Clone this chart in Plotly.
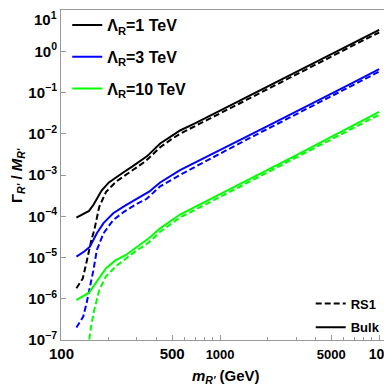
import plotly.graph_objects as go

# masses (GeV)
m_bulk_1 = [125, 140, 150, 160, 170, 180, 200, 225, 250, 280, 320, 345, 360, 380, 420, 500, 560, 700, 1000, 1500, 2000, 3000, 5000, 7000, 10000]
g_bulk_1 = [9.2e-5, 1.15e-4, 1.35e-4, 1.9e-4, 2.9e-4, 4.2e-4, 6.6e-4, 9.3e-4, 1.2e-3, 1.6e-3, 2.25e-3, 2.8e-3, 3.25e-3, 3.95e-3, 5.8e-3, 9.0e-3, 1.2e-2, 1.8e-2, 3.6e-2, 8.0e-2, 0.14, 0.31, 0.85, 1.65, 3.3]

m_rs_1 = [125, 137, 145, 150, 155, 162, 174, 192, 222, 250, 300, 334, 350, 370, 420, 500, 560, 700, 1000, 1500, 2000, 3000, 5000, 7000, 10000]
g_rs_1 = [1.8e-6, 3.1e-6, 8e-6, 1.5e-5, 2.6e-5, 4.7e-5, 1.7e-4, 3.9e-4, 6.9e-4, 9.5e-4, 1.5e-3, 2.05e-3, 2.4e-3, 2.95e-3, 4.7e-3, 7.6e-3, 1.0e-2, 1.55e-2, 3.1e-2, 7.0e-2, 0.122, 0.27, 0.74, 1.45, 2.85]

m_bulk_3 = [125, 140, 152, 160, 168, 185, 213, 250, 300, 346, 360, 380, 420, 560, 700, 1000, 1500, 2000, 3000, 5000, 7000, 10000]
g_bulk_3 = [1.05e-5, 1.4e-5, 1.83e-5, 2.6e-5, 3.86e-5, 6.8e-5, 1.18e-4, 1.75e-4, 2.6e-4, 3.5e-4, 4.0e-4, 4.8e-4, 6.6e-4, 1.32e-3, 2.05e-3, 4.0e-3, 8.9e-3, 1.55e-2, 3.4e-2, 9.3e-2, 0.18, 0.37]

m_rs_3 = [125, 138, 145, 150, 156, 160, 168, 185, 213, 250, 300, 346, 360, 380, 420, 560, 700, 1000, 1500, 2000, 3000, 5000, 7000, 10000]
g_rs_3 = [2.0e-7, 3.7e-7, 8e-7, 1.5e-6, 2.6e-6, 5e-6, 1.52e-5, 3.86e-5, 8.1e-5, 1.3e-4, 2.0e-4, 2.65e-4, 3.05e-4, 3.7e-4, 5.3e-4, 1.0e-3, 1.6e-3, 3.3e-3, 7.5e-3, 1.33e-2, 2.95e-2, 8.1e-2, 0.158, 0.32]

m_bulk_10 = [125, 140, 150, 160, 170, 192, 220, 256, 300, 342, 360, 380, 420, 560, 700, 1000, 1500, 2000, 3000, 5000, 7000, 10000]
g_bulk_10 = [9.3e-7, 1.2e-6, 1.4e-6, 2.0e-6, 2.85e-6, 5.5e-6, 8.5e-6, 1.15e-5, 1.8e-5, 2.55e-5, 3.0e-5, 3.6e-5, 5.1e-5, 1.1e-4, 1.7e-4, 3.4e-4, 7.6e-4, 1.35e-3, 3.0e-3, 8.4e-3, 1.65e-2, 0.034]

m_rs_10 = [125, 138, 145, 151, 155, 162, 174, 192, 222, 256, 300, 342, 360, 380, 420, 560, 700, 1000, 1500, 2000, 3000, 5000, 7000, 10000]
g_rs_10 = [1.6e-8, 3e-8, 7e-8, 1.1e-7, 2.3e-7, 5.4e-7, 1.63e-6, 3.5e-6, 6.2e-6, 9.3e-6, 1.5e-5, 2.05e-5, 2.4e-5, 2.9e-5, 4.2e-5, 9.3e-5, 1.45e-4, 2.95e-4, 6.7e-4, 1.2e-3, 2.65e-3, 7.3e-3, 1.43e-2, 0.029]

labels = ["Λ<sub>R</sub>=1 TeV", "Λ<sub>R</sub>=3 TeV", "Λ<sub>R</sub>=10 TeV"]
colors = ["black", "rgb(0,0,255)", "rgb(0,255,0)"]

x_tickvals = [100, 500, 1000, 5000, 10000]
x_ticktext = ["", "500",
              "<span style='font-size:13px'>1000</span>",
              "<span style='font-size:13px'>5000</span>",
              "<span style='font-size:14px'>10<sup>4</sup></span>"]
x_first_label = "100"
x_minor = [200, 300, 400, 600, 700, 800, 900, 2000, 3000, 4000, 6000, 7000, 8000, 9000]
y_tickvals = [1e-7, 1e-6, 1e-5, 1e-4, 1e-3, 1e-2, 1e-1, 1, 10]
y_ticktext = ["10<sup>−7</sup>", "10<sup>−6</sup>", "10<sup>−5</sup>", "10<sup>−4</sup>",
              "10<sup>−3</sup>", "10<sup>−2</sup>", "10<sup>−1</sup>", "10<sup>0</sup>", ""]
y_top_label = "10<sup>1</sup>"

FONT = "Liberation Sans, Arial, sans-serif"
DASH = "6px,3px"

fig = go.Figure()
series = [(m_bulk_1, g_bulk_1, m_rs_1, g_rs_1),
          (m_bulk_3, g_bulk_3, m_rs_3, g_rs_3),
          (m_bulk_10, g_bulk_10, m_rs_10, g_rs_10)]
for i, (mb, gb, mr, gr) in enumerate(series):
    fig.add_trace(go.Scatter(x=mr, y=gr, mode="lines", showlegend=False,
                             line=dict(color=colors[i], width=2, dash=DASH)))
    fig.add_trace(go.Scatter(x=mb, y=gb, mode="lines", name=labels[i], legend="legend",
                             legendgroup=f"g{i}",
                             line=dict(color=colors[i], width=2)))

fig.add_trace(go.Scatter(x=[None], y=[None], mode="lines", name="RS1", legend="legend2",
                         legendgroup="rs", line=dict(color="black", width=2, dash=DASH)))
fig.add_trace(go.Scatter(x=[None], y=[None], mode="lines", name="Bulk", legend="legend2",
                         legendgroup="bulk", line=dict(color="black", width=2)))

axis_common = dict(showline=True, linecolor="#999999", linewidth=1, mirror=True,
                   ticks="inside", tickcolor="#999999", ticklen=5, showgrid=False,
                   zeroline=False, ticklabeloverflow="allow", automargin=False,
                   tickfont=dict(family=FONT, size=15, color="black", weight="bold"))

fig.update_xaxes(type="log", range=[2, 4.068], tickvals=x_tickvals, ticktext=x_ticktext,
                 minor=dict(ticks="inside", tickvals=x_minor, ticklen=3, tickcolor="#999999"),
                 **axis_common)
fig.update_yaxes(type="log", range=[-7, 1], tickvals=y_tickvals, ticktext=y_ticktext,
                 **axis_common)

fig.add_annotation(text=x_first_label, xref="x", yref="paper", x=2, y=-0.042,
                   xanchor="center", yanchor="middle", showarrow=False,
                   font=dict(family=FONT, size=15, color="black", weight="bold"))
fig.add_annotation(text=y_top_label, xref="paper", yref="paper", x=-0.009, y=1.006,
                   xanchor="right", yanchor="top", showarrow=False, borderpad=0,
                   font=dict(family=FONT, size=15, color="black", weight="bold"))
fig.add_annotation(text="<b><i>m</i><sub><i>R'</i></sub> (GeV)</b>", xref="paper", yref="paper",
                   x=0.5, y=-0.112, xanchor="center", yanchor="middle", showarrow=False,
                   font=dict(family=FONT, size=15, color="black"))
fig.add_annotation(text="<b>Γ<sub><i>R'</i></sub> / <i>M</i><sub><i>R'</i></sub></b>",
                   xref="paper", yref="paper", x=-0.134, y=0.5, xanchor="center",
                   yanchor="middle", textangle=-90, showarrow=False,
                   font=dict(family=FONT, size=15, color="black"))

# page body has an 8px default margin, so the figure is smaller and shifted
fig.update_layout(
    width=384, height=383,
    margin=dict(l=53, r=2, t=2, b=51, autoexpand=False),
    plot_bgcolor="white", paper_bgcolor="white",
    legend=dict(x=0.019, y=1.006, xanchor="left", yanchor="top", bgcolor="rgba(0,0,0,0)",
                font=dict(family=FONT, size=16, color="black", weight="bold"),
                tracegroupgap=8),
    legend2=dict(x=0.759, y=0.156, xanchor="left", yanchor="top", bgcolor="rgba(0,0,0,0)",
                 font=dict(family=FONT, size=13, color="black", weight="bold"),
                 tracegroupgap=4),
)

fig.write_html("out.html")
